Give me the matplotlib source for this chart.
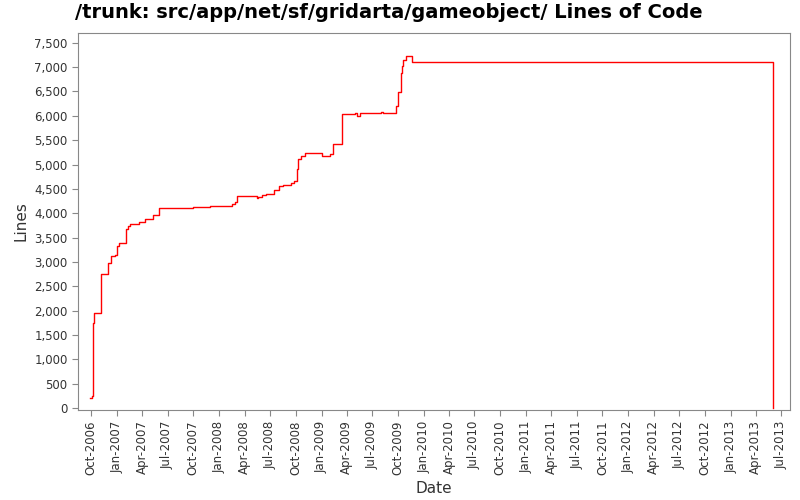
import matplotlib
matplotlib.use("Agg")
import matplotlib.pyplot as plt
import matplotlib.dates as mdates
import matplotlib.ticker as mticker
import pandas as pd

dates = ["2006-09-28","2006-10-03","2006-10-06","2006-10-08","2006-10-10","2006-11-05","2006-11-30",
         "2006-12-10","2006-12-25","2007-01-01","2007-01-08","2007-02-01","2007-02-08","2007-02-15",
         "2007-03-20","2007-04-10","2007-05-10","2007-06-01","2007-10-01","2007-12-01","2008-02-15",
         "2008-02-25","2008-03-05","2008-05-15","2008-05-20","2008-06-01","2008-06-15","2008-07-15",
         "2008-08-01","2008-08-15","2008-09-15","2008-09-25","2008-10-05","2008-10-08","2008-10-20",
         "2008-11-01","2009-01-01","2009-02-01","2009-02-10","2009-03-15","2009-05-01","2009-05-08",
         "2009-05-18","2009-08-01","2009-08-10","2009-09-25","2009-10-01","2009-10-10","2009-10-15",
         "2009-10-20","2009-10-28","2009-11-20","2013-05-30","2013-05-31"]
lines = [200,250,450,1750,1950,2750,2980,3130,3150,3330,3380,3680,3740,3780,3830,3880,3970,4100,
         4120,4150,4190,4240,4350,4320,4340,4370,4400,4470,4550,4570,4620,4670,4900,5120,5170,5230,
         5180,5220,5420,6030,6050,6000,6050,6070,6050,6200,6480,6870,7030,7150,7230,7100,7100,0]

d = pd.to_datetime(dates)
fig = plt.figure(figsize=(8, 5), dpi=100)
ax = fig.add_axes([0.0975, 0.18, 0.89, 0.754])
ax.step(d, lines, where="post", color="#ff0000", lw=1)
ax.set_xlim(pd.Timestamp("2006-08-15"), pd.Timestamp("2013-08-01"))
ax.set_ylim(-40, 7700)
ax.yaxis.set_major_locator(mticker.MultipleLocator(500))
ax.yaxis.set_major_formatter(mticker.FuncFormatter(lambda v, p: f"{int(v):,}"))
ax.xaxis.set_major_locator(mdates.MonthLocator(bymonth=[1, 4, 7, 10]))
ax.xaxis.set_major_formatter(mdates.DateFormatter("%b-%Y"))
for s in ax.spines.values():
    s.set_color("#888888")
ax.tick_params(colors="#888888", labelcolor="#333333", labelsize=8.5, length=4)
plt.setp(ax.get_xticklabels(), rotation=90)
ax.set_xlabel("Date", fontsize=11, color="#333333")
ax.set_ylabel("Lines", fontsize=11, color="#333333")
fig.text(0.094, 0.955, "/trunk: src/app/net/sf/gridarta/gameobject/ Lines of Code",
         fontsize=14, fontweight="bold", ha="left", va="bottom")
fig.savefig("out.png")
